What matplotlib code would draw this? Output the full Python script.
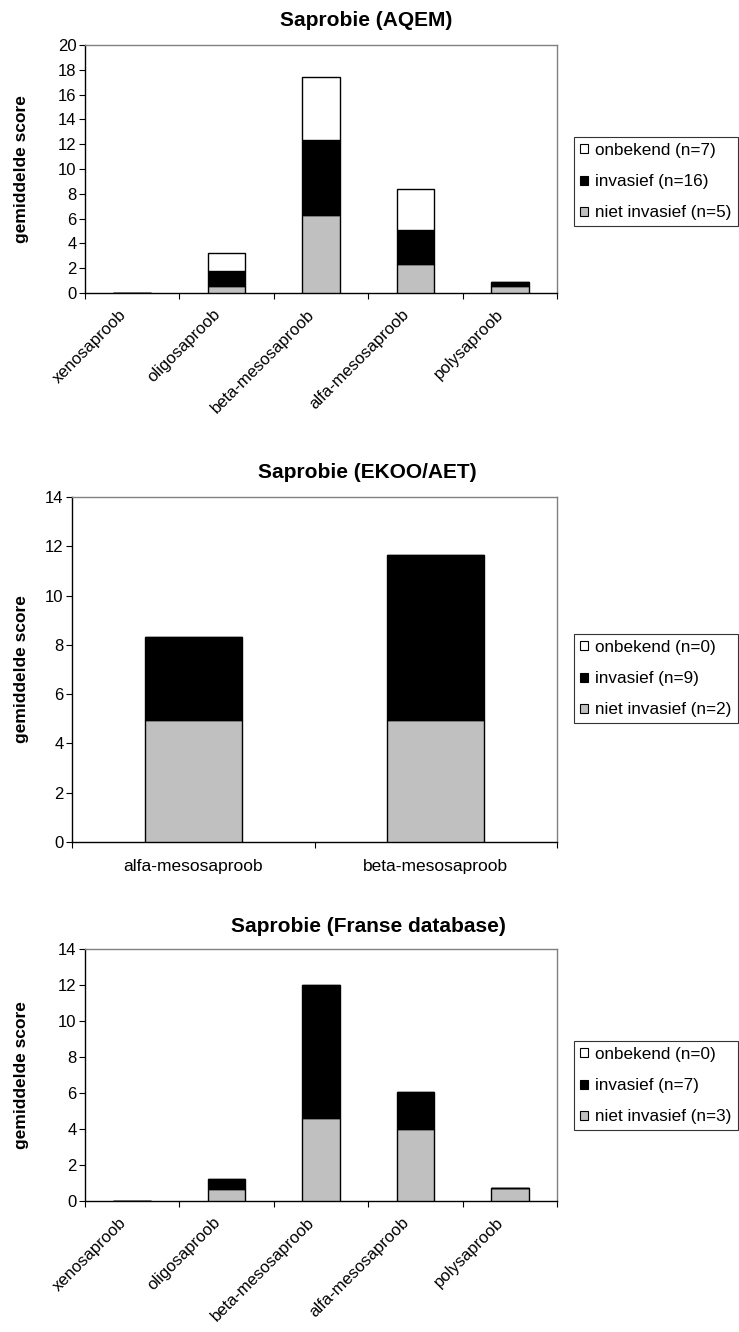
import numpy as np
import matplotlib
matplotlib.use("Agg")
import matplotlib.pyplot as plt
import matplotlib.transforms as mtrans
from matplotlib.patches import Patch

plt.rcParams['font.family'] = ['Liberation Sans', 'DejaVu Sans']

# saprobie classes
klassen5 = ['xenosaproob', 'oligosaproob', 'beta-mesosaproob', 'alfa-mesosaproob', 'polysaproob']
klassen2 = ['alfa-mesosaproob', 'beta-mesosaproob']

# AQEM
aqem_niet = [0, 0.55, 6.3, 2.3, 0.6]
aqem_inv = [0, 1.25, 6.05, 2.75, 0.25]
aqem_onb = [0, 1.45, 5.1, 3.35, 0]
aqem_n = (7, 16, 5)

# EKOO/AET
ekoo_niet = [4.95, 4.95]
ekoo_inv = [3.37, 6.68]
ekoo_onb = [0, 0]
ekoo_n = (0, 9, 2)

# Franse database
frans_niet = [0, 0.67, 4.6, 4.0, 0.7]
frans_inv = [0, 0.57, 7.4, 2.05, 0]
frans_onb = [0, 0, 0, 0, 0]
frans_n = (0, 7, 3)

W, H = 739, 1332
fig = plt.figure(figsize=(W / 100, H / 100), dpi=100)


def px(x0, y0, x1, y1):
    return [x0 / W, 1 - y1 / H, (x1 - x0) / W, (y1 - y0) / H]


def teken(rect, titel, title_xy, klassen, niet, inv, onb, n, ymax, ystep,
          schuin, legend_y, ylab_x):
    ax = fig.add_axes(px(*rect))
    x = np.arange(len(klassen))
    niet = np.array(niet)
    inv = np.array(inv)
    onb = np.array(onb)
    kw = dict(width=0.4, edgecolor='black', linewidth=1.0, zorder=3)
    ax.bar(x, niet, color='#c0c0c0', **kw)
    ax.bar(x, inv, bottom=niet, color='black', **kw)
    ax.bar(x, onb, bottom=niet + inv, color='white', **kw)

    ax.set_xlim(-0.5, len(klassen) - 0.5)
    ax.set_ylim(0, ymax)
    ax.set_yticks(np.arange(0, ymax + 0.1, ystep))
    ax.tick_params(axis='y', direction='out', length=4, width=0.8,
                   labelsize=12, pad=2)

    # ticks between categories, labels at the centres
    ax.set_xticks(np.arange(-0.5, len(klassen), 1.0))
    ax.set_xticklabels([])
    ax.tick_params(axis='x', which='major', direction='out', length=4, width=0.8)
    ax.set_xticks(x, minor=True)
    if schuin:
        ax.set_xticklabels(klassen, minor=True, rotation=45, ha='right',
                           rotation_mode='anchor', fontsize=12)
        ax.tick_params(axis='x', which='minor', length=0, pad=10)
        shift = mtrans.ScaledTranslation(-14 / 100, 0, fig.dpi_scale_trans)
        for lbl in ax.get_xticklabels(minor=True):
            lbl.set_transform(lbl.get_transform() + shift)
    else:
        ax.set_xticklabels(klassen, minor=True, fontsize=12.5)
        ax.tick_params(axis='x', which='minor', length=0, pad=12)

    for s in ('left', 'bottom'):
        ax.spines[s].set_color('black')
        ax.spines[s].set_linewidth(1.0)
    for s in ('top', 'right'):
        ax.spines[s].set_color('#808080')
        ax.spines[s].set_linewidth(1.0)

    ax.set_ylabel('gemiddelde score', fontsize=12.5, fontweight='bold')
    ax.yaxis.set_label_coords(ylab_x, 0.5)

    fig.text(title_xy[0] / W, 1 - title_xy[1] / H, titel, ha='center',
             va='center', fontsize=15, fontweight='bold')

    handles = [
        Patch(facecolor='white', edgecolor='black', linewidth=0.8),
        Patch(facecolor='black', edgecolor='black', linewidth=0.8),
        Patch(facecolor='#c0c0c0', edgecolor='black', linewidth=0.8),
    ]
    labels = ['onbekend (n=%d)' % n[0], 'invasief (n=%d)' % n[1],
              'niet invasief (n=%d)' % n[2]]
    leg = fig.legend(handles, labels, loc='upper left',
                     bbox_to_anchor=(574 / W, 1 - legend_y / H),
                     fontsize=12.3, frameon=True, fancybox=False,
                     handlelength=0.45, handleheight=0.45, handletextpad=0.45,
                     labelspacing=0.95, borderpad=0.35, borderaxespad=0)
    leg.get_frame().set_edgecolor('black')
    leg.get_frame().set_linewidth(0.8)
    return ax


teken((85, 45, 557, 293), 'Saprobie (AQEM)', (366, 20), klassen5,
      aqem_niet, aqem_inv, aqem_onb, aqem_n, 20, 2, True, 137, -0.119)
teken((72, 497, 557, 842), 'Saprobie (EKOO/AET)', (367, 473), klassen2,
      ekoo_niet, ekoo_inv, ekoo_onb, ekoo_n, 14, 2, False, 634, -0.089)
teken((85, 949, 557, 1201), 'Saprobie (Franse database)', (368, 927), klassen5,
      frans_niet, frans_inv, frans_onb, frans_n, 14, 2, True, 1041, -0.119)

fig.savefig('out.png', dpi=100, facecolor='white')
